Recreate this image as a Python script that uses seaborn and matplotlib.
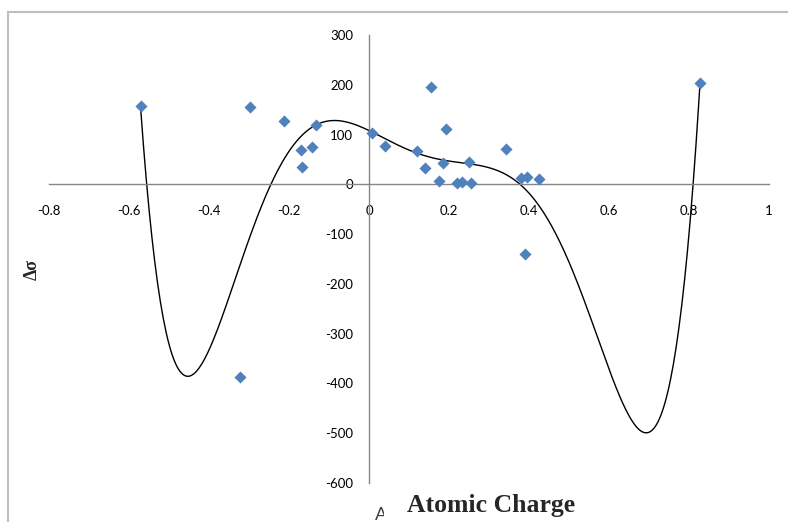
import numpy as np
import pandas as pd
import matplotlib
matplotlib.use("Agg")
import matplotlib.pyplot as plt
import seaborn as sns
from matplotlib.patches import Rectangle

# ---- data ----
charge = [-0.571, -0.297, -0.2125, -0.133, -0.169, -0.142, -0.167, -0.322,
          0.007, 0.040, 0.121, 0.141, 0.155, 0.1925, 0.186, 0.175,
          0.221, 0.2325, 0.255, 0.251, 0.3425, 0.380, 0.395, 0.425,
          0.390, 0.8275]
delta_sigma = [157, 156, 127, 120, 68, 74, 35, -387,
               103, 77, 67, 33, 195, 112, 42, 7,
               3, 4, 3, 44, 70, 13, 15, 11,
               -139, 203]
x_ticks = [-0.8, -0.6, -0.4, -0.2, 0, 0.2, 0.4, 0.6, 0.8, 1]
x_tick_labels = ["-0.8", "-0.6", "-0.4", "-0.2", "0", "0.2", "0.4", "0.6", "0.8", "1"]
y_ticks = [-600, -500, -400, -300, -200, -100, 0, 100, 200, 300]
y_tick_labels = ["-600", "-500", "-400", "-300", "-200", "-100", "0", "100", "200", "300"]
trend_order = 6

df = pd.DataFrame({"charge": charge, "dsigma": delta_sigma})

# polynomial trendline (Excel style), computed from the data
coef = np.polyfit(df["charge"], df["dsigma"], trend_order)
xs = np.linspace(min(charge), max(charge), 400)
trend = pd.DataFrame({"charge": xs, "dsigma": np.polyval(coef, xs)})

sns.set_theme(style="white")
plt.rcParams["font.family"] = ["Lato", "DejaVu Sans"]

W, H = 788, 522
fig = plt.figure(figsize=(W / 100, H / 100), dpi=100)
fig.patch.set_facecolor("white")

# chart-area border (light grey)
fig.patches.append(Rectangle((7.5 / W, -0.1), 1.2, 1 - 12 / H + 0.1,
                             transform=fig.transFigure, fill=False,
                             edgecolor="#BFBFBF", linewidth=1.5, zorder=0))

ax = fig.add_axes([49 / W, 1 - 483 / H, (769 - 49) / W, (483 - 35) / H])
ax.set_facecolor("none")

sns.lineplot(data=trend, x="charge", y="dsigma", ax=ax, color="black",
             linewidth=1.0, sort=True, zorder=2)
sns.scatterplot(data=df, x="charge", y="dsigma", ax=ax, marker="D", s=38,
                color="#4F81BD", edgecolor="#4F81BD", linewidth=0, zorder=3)

ax.set_xlim(-0.8, 1)
ax.set_ylim(-600, 300)
ax.set_xticks(x_ticks)
ax.set_xticklabels(x_tick_labels)
ax.set_yticks(y_ticks)
ax.set_yticklabels(y_tick_labels)
ax.set_xlabel("")
ax.set_ylabel("")

for s in ["top", "right"]:
    ax.spines[s].set_visible(False)
ax.spines["left"].set_position(("data", 0))
ax.spines["bottom"].set_position(("data", 0))
for s in ["left", "bottom"]:
    ax.spines[s].set_color("#868686")
    ax.spines[s].set_linewidth(1.0)

ax.tick_params(axis="both", which="major", direction="out", length=3.6,
               width=1.0, color="#868686", labelsize=9.5, labelcolor="black")
ax.tick_params(axis="x", pad=11.5)
ax.tick_params(axis="y", pad=8)
ax.grid(False)

# axis titles
fig.text(32 / W, 1 - 270 / H, "Δσ", rotation=90, ha="center", va="center",
         fontsize=13, fontweight="bold", family=["Liberation Serif", "DejaVu Serif"])
# partially hidden original title behind the new one
fig.text(375 / W, 1 - 520 / H, "Atomic Charge", ha="left", va="baseline",
         fontsize=13, color="#404040", zorder=4)
fig.add_artist(Rectangle((384 / W, 0), 215 / W, 36 / H, transform=fig.transFigure,
                         facecolor="white", edgecolor="none", zorder=5))
fig.text(491 / W, 1 - 512 / H, "Atomic Charge", ha="center", va="baseline",
         fontsize=18.5, fontweight="bold", family=["Liberation Serif", "DejaVu Serif"],
         zorder=6)

fig.savefig("out.png", dpi=100, facecolor="white")
